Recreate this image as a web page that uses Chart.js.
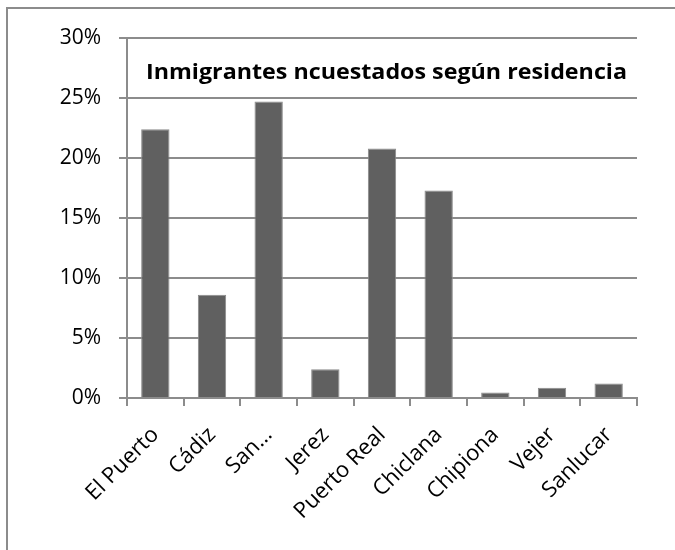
<!DOCTYPE html>
<html>
<head>
<meta charset="utf-8">
<script src="https://cdn.jsdelivr.net/npm/chart.js@4.4.1/dist/chart.umd.min.js"></script>
<style>
  html, body { margin: 0; padding: 0; background: #ffffff; overflow: hidden; }
  #wrap { position: relative; width: 675px; height: 550px; }
  #frame { position: absolute; left: 6px; top: 7px; width: 720px; height: 600px;
           border: 2px solid #8c8c8c; box-sizing: border-box; pointer-events: none; }
</style>
</head>
<body>
<div id="wrap">
  <canvas id="c" width="675" height="550"></canvas>
  <div id="frame"></div>
</div>
<script>
const categories = ["El Puerto", "Cádiz", "San…", "Jerez", "Puerto Real", "Chiclana", "Chipiona", "Vejer", "Sanlucar"];
const values = [22.4, 8.6, 24.7, 2.4, 20.8, 17.3, 0.45, 0.85, 1.2];
const yTicks = [0, 5, 10, 15, 20, 25, 30];
const chartTitle = "Inmigrantes ncuestados según residencia";

const FONT = "'Open Sans', Lato, sans-serif";

const titlePlugin = {
  id: 'insideTitle',
  afterDraw(chart) {
    const ctx = chart.ctx;
    const area = chart.chartArea;
    ctx.save();
    ctx.font = "bold 21px " + FONT;
    ctx.fillStyle = "#000000";
    ctx.textAlign = "left";
    ctx.textBaseline = "middle";
    const right = area.right - 10;
    const left = area.left + 19;
    const w = ctx.measureText(chartTitle).width;
    const sx = (right - left) / w;
    ctx.translate(left, 73);
    ctx.scale(sx, 1);
    ctx.fillText(chartTitle, 0, 0);
    ctx.restore();
  }
};

new Chart(document.getElementById('c'), {
  type: 'bar',
  data: {
    labels: categories,
    datasets: [{
      data: values,
      backgroundColor: '#606060',
      borderColor: '#8a8a8a',
      borderWidth: 1,
      categoryPercentage: 1.0,
      barPercentage: 0.5
    }]
  },
  options: {
    responsive: false,
    animation: false,
    devicePixelRatio: 1,
    layout: { padding: { left: 0, right: 38, top: 38, bottom: 0 } },
    plugins: { legend: { display: false }, tooltip: { enabled: false }, title: { display: false } },
    scales: {
      x: {
        afterFit(scale) { scale.height = 152; },
        grid: { offset: true, drawOnChartArea: false, drawTicks: true, tickLength: 8, color: '#8c8c8c', lineWidth: 2 },
        border: { color: '#8c8c8c', width: 2 },
        ticks: { minRotation: 45, maxRotation: 45, autoSkip: false, padding: 16,
                 color: '#000000', font: { family: FONT, size: 22 } }
      },
      y: {
        min: 0, max: 30,
        afterFit(scale) { scale.width = 127; },
        afterBuildTicks(scale) { scale.ticks = yTicks.map(v => ({ value: v })); },
        grid: { color: '#8c8c8c', lineWidth: 2, drawTicks: true, tickLength: 8 },
        border: { color: '#8c8c8c', width: 2 },
        ticks: { padding: 18, color: '#000000', font: { family: FONT, size: 21 },
                 callback: v => v + '%' }
      }
    }
  },
  plugins: [titlePlugin]
});
</script>
</body>
</html>
